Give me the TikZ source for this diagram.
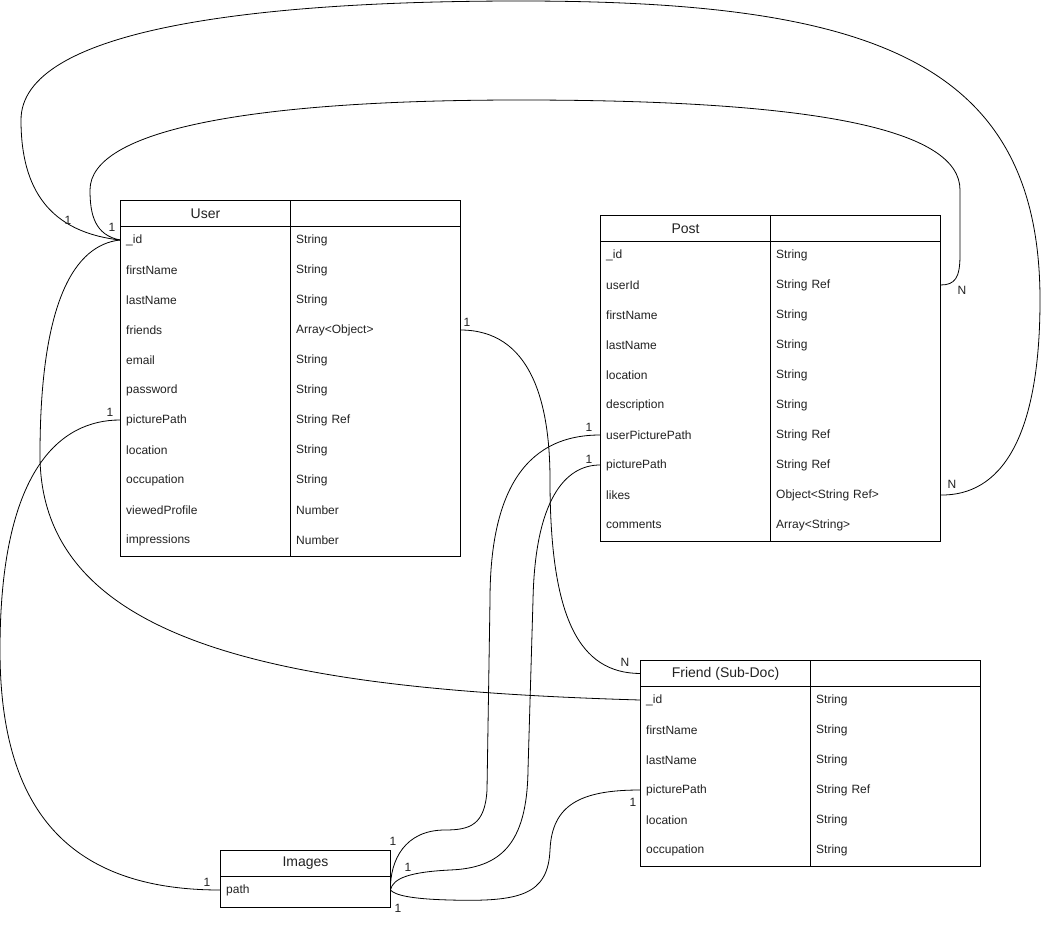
\documentclass[tikz,border=0pt]{standalone}
\usepackage{fontspec}
\setmainfont{Liberation Sans}
\newcommand\fsrow{\fontsize{12}{14}\selectfont}
\newcommand\fshead{\fontsize{14}{16}\selectfont}
\newcommand\fslab{\fontsize{12}{14}\selectfont}
\definecolor{ink}{HTML}{222222}
\tikzset{
  fld/.style={anchor=west, minimum height=30pt, text width=158pt, inner xsep=6pt, inner ysep=0pt, align=left, font=\fsrow, text=ink},
  hdr/.style={draw, line width=1pt, anchor=north west, minimum width=170pt, minimum height=26pt, inner sep=0pt, font=\fshead, text=ink},
  bodybox/.style={draw, line width=1pt, anchor=north west, inner sep=0pt},
  card/.style={font=\fslab, inner sep=0pt, text=ink},
  rel/.style={line width=0.8pt}
}
\begin{document}
\begin{tikzpicture}[x=1pt, y=-1pt]
\fill[white] (0,0) rectangle (1041,925);
\useasboundingbox (0,0) rectangle (1041,925);

% ---------- User ----------
\node[hdr] (user) at (120,200) {User};
\node[hdr] (userR) at (290,200) {};
\node[bodybox, minimum width=340pt, minimum height=330pt] (userB) at (120,226) {};
\draw[line width=1pt] (290,226) -- (290,556);
\foreach \n/\t [count=\i] in {\_id/String, firstName/String, lastName/String, friends/Array<Object>, email/String, password/String, picturePath/String Ref, location/String, occupation/String, viewedProfile/Number, impressions/Number}{
  \node[fld] (u\i) at (120,210+30*\i) {\n};
  \node[fld] (u\i r) at (290,210+30*\i) {\t};
}

% ---------- Post ----------
\node[hdr] (post) at (600,215) {Post};
\node[hdr] (postR) at (770,215) {};
\node[bodybox, minimum width=340pt, minimum height=300pt] (postB) at (600,241) {};
\draw[line width=1pt] (770,241) -- (770,541);
\foreach \n/\t [count=\i] in {\_id/String, userId/String Ref, firstName/String, lastName/String, location/String, description/String, userPicturePath/String Ref, picturePath/String Ref, likes/Object<String Ref>, comments/Array<String>}{
  \node[fld] (p\i) at (600,225+30*\i) {\n};
  \node[fld] (p\i r) at (770,225+30*\i) {\t};
}

% ---------- Friend ----------
\node[hdr] (friend) at (640,660) {Friend (Sub-Doc)};
\node[hdr] (friendR) at (810,660) {};
\node[bodybox, minimum width=340pt, minimum height=180pt] (friendB) at (640,686) {};
\draw[line width=1pt] (810,686) -- (810,866);
\foreach \n/\t [count=\i] in {\_id/String, firstName/String, lastName/String, picturePath/String Ref, location/String, occupation/String}{
  \node[fld] (f\i) at (640,670+30*\i) {\n};
  \node[fld] (f\i r) at (810,670+30*\i) {\t};
}

% ---------- Images ----------
\node[hdr] (images) at (220,850) {Images};
\node[bodybox, minimum width=170pt, minimum height=31pt] (imagesB) at (220,876) {};
\node[fld] (ipath) at (220,890) {path};

% ---------- connectors ----------
% User._id -> Post.likes (outer loop)
\draw[rel] (u1.west) .. controls (50,232) and (21,190) .. (21,120)
  .. controls (21,30) and (250,1) .. (520,1)
  .. controls (870,1) and (1040,60) .. (1040,300)
  .. controls (1040,440) and (1000,496) .. (p9r.east);
% User._id -> Post.userId (inner loop)
\draw[rel] (u1.west) .. controls (95,235) and (90,215) .. (90,190)
  .. controls (90,130) and (250,100) .. (520,100)
  .. controls (820,100) and (960,130) .. (960,190)
  -- (960,255) .. controls (960,278) and (955,285) .. (p2r.east);
% User._id -> Friend._id
\draw[rel] (u1.west) .. controls (75,245) and (40,300) .. (40,455)
  .. controls (40,650) and (300,690) .. (f1.west);
% User.picturePath -> Images.path
\draw[rel] (u7.west) .. controls (60,420) and (0,470) .. (0,650)
  .. controls (0,800) and (60,890) .. (ipath.west);
% User.friends -> Friend
\draw[rel] (u4r.east) .. controls (530,330) and (550,400) .. (550,480)
  .. controls (550,620) and (580,673) .. (friend.west);
% Post.userPicturePath -> Images.path
\draw[rel] (p7.west) .. controls (520,435) and (490,500) .. (490,600)
  -- (487,790) .. controls (485,825) and (470,830) .. (445,830)
  .. controls (405,830) and (390,860) .. (ipath.east);
% Post.picturePath -> Images.path
\draw[rel] (p8.west) .. controls (565,465) and (535,500) .. (533,600)
  -- (528,770) .. controls (527,845) and (500,868) .. (450,870)
  .. controls (410,872) and (393,878) .. (ipath.east);
% Friend.picturePath -> Images.path
\draw[rel] (f4.west) .. controls (580,790) and (552,805) .. (550,850)
  .. controls (548,895) and (520,902) .. (450,900)
  .. controls (410,899) and (395,895) .. (ipath.east);

% ---------- cardinality labels ----------
\node[card] (l1) at (68,220) {1};
\node[card] (l2) at (112,227) {1};
\node[card] (l3) at (467,322) {1};
\node[card] (l4) at (625,662) {N};
\node[card] (l5) at (110,412) {1};
\node[card] (l6) at (207,882) {1};
\node[card] (l7) at (589,427) {1};
\node[card] (l8) at (589,459) {1};
\node[card] (l9) at (962,290) {N};
\node[card] (l10) at (952,484) {N};
\node[card] (l11) at (633,802) {1};
\node[card] (l12) at (393,841) {1};
\node[card] (l13) at (408,867) {1};
\node[card] (l14) at (398,908) {1};
\end{tikzpicture}
\end{document}
